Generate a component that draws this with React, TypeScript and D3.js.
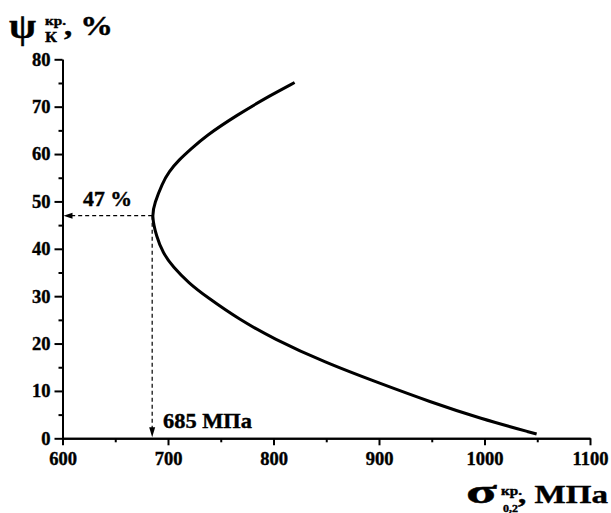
import React, { useEffect, useRef } from 'react';
import * as d3 from 'd3';

// Curve: yield strength (MPa) vs critical reduction (%)
const psiValues = [75.1, 72.5, 68.2, 63.7, 61.2, 58.7, 56.3, 53.8, 49.6, 47.0, 42.6, 39.1, 36.2, 32.7, 29.9, 25.0, 21.1, 16.0, 11.6, 7.7, 4.2, 0.9];
const sigmaValues = [820, 798, 765, 735, 722.5, 710, 701, 694.5, 687.3, 684.5, 689, 695.2, 704.6, 720, 736.3, 768, 799.5, 848.6, 900.8, 948.2, 995.6, 1049.4];

const xMajorTicks = [600, 700, 800, 900, 1000, 1100];
const xMinorTicks = [650, 750, 850, 950, 1050];
const yMajorTicks = [0, 10, 20, 30, 40, 50, 60, 70, 80];
const yMinorTicks = [5, 15, 25, 35, 45, 55, 65, 75];

const optimumSigma = 685;
const optimumPsi = 47;

const FONT = '"Liberation Serif", "Times New Roman", serif';

const App: React.FC = () => {
  const ref = useRef<SVGSVGElement>(null);

  useEffect(() => {
    if (!ref.current) return;
    const svg = d3.select(ref.current);
    svg.selectAll('*').remove();

    const x = d3.scaleLinear().domain([600, 1100]).range([62.5, 590]);
    const y = d3.scaleLinear().domain([0, 80]).range([438.3, 59.3]);

    const styleAxis = (g: d3.Selection<SVGGElement, unknown, null, undefined>) => {
      g.attr('font-family', FONT).attr('font-size', 18).attr('font-weight', 'bold');
      g.select('.domain').attr('stroke', '#000').attr('stroke-width', 2);
      g.selectAll('.tick line').attr('stroke', '#000').attr('stroke-width', 2);
      g.selectAll('.tick text')
        .attr('fill', '#000')
        .attr('stroke', '#000')
        .attr('stroke-width', 0.4)
        .style('font-family', FONT)
        .style('font-size', '18.5px')
        .style('font-weight', '700');
    };

    // minor ticks first, majors on top
    svg.append('g')
      .attr('transform', `translate(0,${y(0)})`)
      .call(d3.axisBottom(x).tickValues(xMinorTicks).tickSize(4).tickSizeOuter(0).tickFormat(() => ''))
      .call(styleAxis);
    svg.append('g')
      .attr('transform', `translate(${x(600)},0)`)
      .call(d3.axisLeft(y).tickValues(yMinorTicks).tickSize(4).tickSizeOuter(0).tickFormat(() => ''))
      .call(styleAxis);

    svg.append('g')
      .attr('transform', `translate(0,${y(0)})`)
      .call(d3.axisBottom(x).tickValues(xMajorTicks).tickSize(7).tickPadding(7).tickSizeOuter(0).tickFormat(d3.format('d')))
      .call(styleAxis);
    svg.append('g')
      .attr('transform', `translate(${x(600)},0)`)
      .call(d3.axisLeft(y).tickValues(yMajorTicks).tickSize(8).tickPadding(4).tickSizeOuter(0).tickFormat(d3.format('d')))
      .call(styleAxis);

    // dashed guides to the axes
    svg.append('line')
      .attr('x1', x(optimumSigma)).attr('y1', y(optimumPsi))
      .attr('x2', x(600) + 6).attr('y2', y(optimumPsi))
      .attr('stroke', '#000').attr('stroke-width', 1.2).attr('stroke-dasharray', '4,3');
    svg.append('line')
      .attr('x1', x(optimumSigma)).attr('y1', y(optimumPsi))
      .attr('x2', x(optimumSigma)).attr('y2', y(0) - 8)
      .attr('stroke', '#000').attr('stroke-width', 1.2).attr('stroke-dasharray', '4,3');

    // arrow heads
    const ax = x(600) + 1;
    const ay = y(optimumPsi);
    svg.append('path')
      .attr('d', `M${ax},${ay} L${ax + 9},${ay - 3} L${ax + 9},${ay + 3} Z`)
      .attr('fill', '#000');
    const bx = x(optimumSigma);
    const by = y(0) - 1;
    svg.append('path')
      .attr('d', `M${bx},${by} L${bx - 3},${by - 10} L${bx + 3},${by - 10} Z`)
      .attr('fill', '#000');

    // main curve (B-spline smooths the reading noise)
    const pts = psiValues.map((p, i) => [sigmaValues[i], p] as [number, number]);
    const line = d3.line<[number, number]>()
      .x(d => x(d[0]))
      .y(d => y(d[1]))
      .curve(d3.curveBasis);
    svg.append('path')
      .datum(pts)
      .attr('d', line)
      .attr('fill', 'none')
      .attr('stroke', '#000')
      .attr('stroke-width', 3);

    // annotations
    const txt = (tx: number, ty: number, s: string, size: number, len?: number) => {
      const t = svg.append('text')
        .attr('x', tx).attr('y', ty)
        .attr('font-family', FONT)
        .attr('font-size', size)
        .attr('font-weight', 'bold')
        .attr('fill', '#000')
        .attr('stroke', '#000')
        .attr('stroke-width', 0.4)
        .text(s);
      if (len) t.attr('textLength', len).attr('lengthAdjust', 'spacingAndGlyphs');
      return t;
    };

    txt(83, 206, '47 %', 21, 49);
    txt(163, 428, '685 МПа', 22, 89);

    // y title
    txt(9, 38, 'ψ', 36, 27);
    txt(45, 25, 'кр.', 12, 21);
    txt(45, 42, 'К', 15, 12);
    txt(64, 35, ', %', 27, 49);

    // x title
    txt(466, 503, 'σ', 34, 31);
    txt(501, 495, 'кр.', 12, 21);
    txt(503, 512, '0,2', 11, 15);
    txt(518, 503, ', МПа', 26, 90);
  }, []);

  return (
    <svg
      ref={ref}
      width={611}
      height={513}
      style={{ position: 'absolute', left: 0, top: 0, background: '#fff' }}
    />
  );
};

export default App;
